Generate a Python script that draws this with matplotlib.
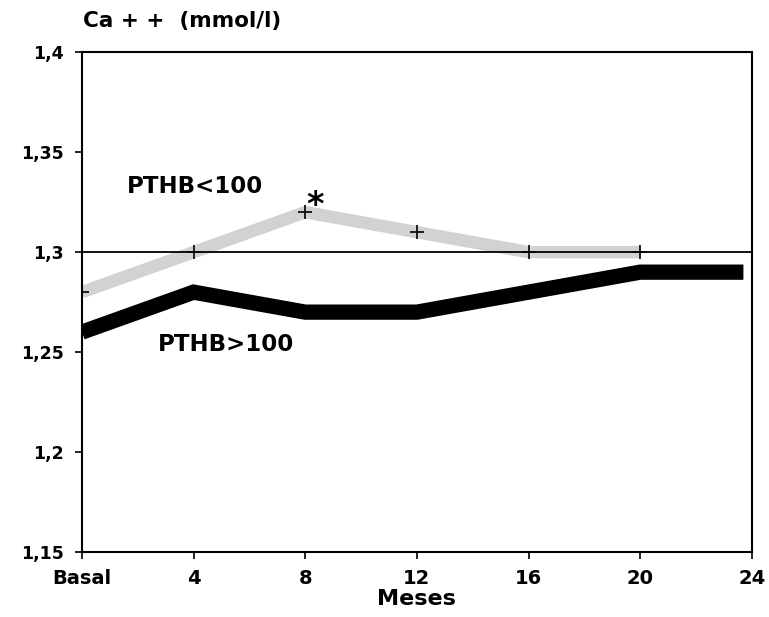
import matplotlib
matplotlib.use("Agg")
import matplotlib.pyplot as plt
from matplotlib.ticker import FuncFormatter

months = [0, 4, 8, 12, 16, 20, 24]
xlabels = ["Basal", "4", "8", "12", "16", "20", "24"]
pthb_low_x = [0, 4, 8, 12, 16, 20]
pthb_low = [1.28, 1.30, 1.32, 1.31, 1.30, 1.30]
pthb_high = [1.26, 1.28, 1.27, 1.27, 1.28, 1.29, 1.29]
ref_level = 1.30
yticks = [1.15, 1.2, 1.25, 1.3, 1.35, 1.4]

plt.rcParams['font.family'] = ['DejaVu Sans']
fig = plt.figure(figsize=(7.69, 6.17), dpi=100)
ax = fig.add_axes([0.1066, 0.1053, 0.871, 0.810])

ax.axhline(ref_level, color='black', lw=1.3, zorder=2)
ax.plot(pthb_low_x, pthb_low, color='#d2d2d2', lw=9, solid_capstyle='butt', zorder=1)
ax.plot(pthb_low_x, pthb_low, ls='none', marker='+', color='black', ms=10, mew=1.2, zorder=3)
ax.plot(months[:-1] + [23.7], pthb_high, color='black', lw=11, solid_capstyle='butt',
        solid_joinstyle='miter', zorder=3)

ax.set_xlim(0, 24)
ax.set_ylim(1.15, 1.4)
ax.set_xticks(months)
ax.set_xticklabels(xlabels)
ax.set_yticks(yticks)
ax.yaxis.set_major_formatter(FuncFormatter(lambda v, p: ("%g" % v).replace('.', ',')))
for lab in ax.get_xticklabels():
    lab.set_fontweight('bold')
    lab.set_fontsize(14)
for lab in ax.get_yticklabels():
    lab.set_fontweight('bold')
    lab.set_fontsize(12.5)
ax.tick_params(direction='out', length=5, width=1.2)
ax.tick_params(axis='x', pad=7)
ax.tick_params(axis='y', pad=8)
for s in ax.spines.values():
    s.set_linewidth(1.5)

fig.text(0.542, 0.029, "Meses", fontsize=16, fontweight='bold', ha='center', va='center')
fig.text(0.108, 0.966, "Ca + +  (mmol/l)", fontsize=15.5, fontweight='bold', ha='left', va='center')

ax.text(1.61, 1.3328, "PTHB<100", fontsize=16.5, fontweight='bold', ha='left', va='center')
ax.text(2.72, 1.254, "PTHB>100", fontsize=16.5, fontweight='bold', ha='left', va='center')
ax.text(8.35, 1.3235, "*", fontsize=24, fontweight='bold', ha='center', va='center')

fig.savefig("out.png", dpi=100)
